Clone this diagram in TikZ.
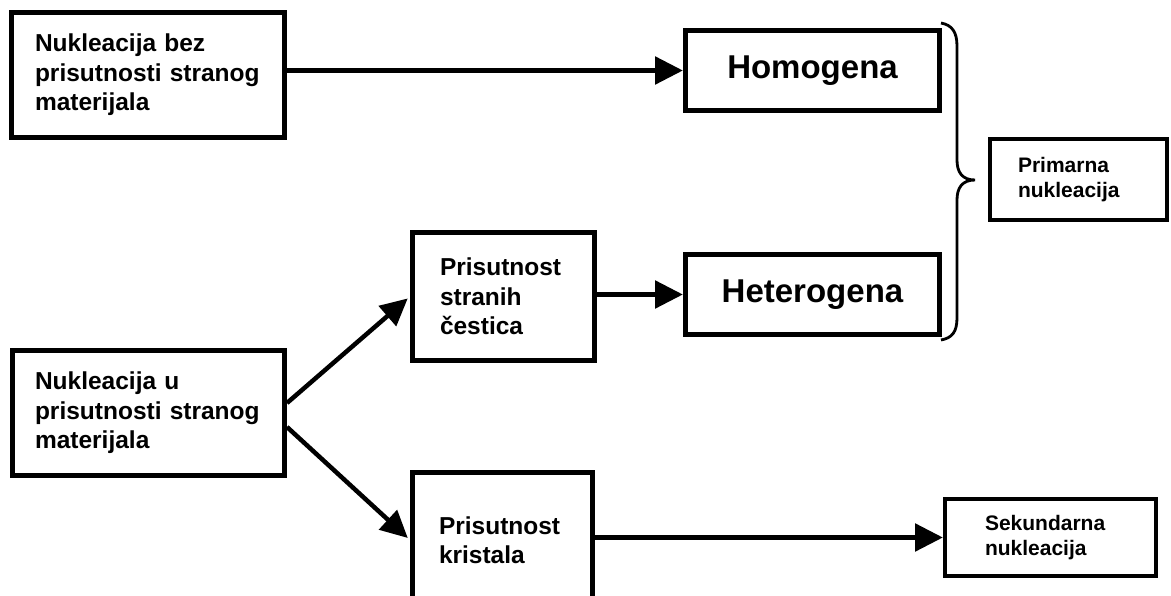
\documentclass[tikz,border=0pt]{standalone}
\usepackage{fontspec}
\setmainfont{Liberation Sans}
\usetikzlibrary{arrows.meta,calc}
\begin{document}
\begin{tikzpicture}[x=1pt,y=-1pt,
  box/.style={draw=black,line width=5pt,rectangle,inner sep=0pt,align=left,font=\bfseries},
  bigtext/.style={font=\fontsize{24.5pt}{29.5pt}\selectfont\bfseries},
  hugetext/.style={font=\fontsize{33pt}{38pt}\selectfont\bfseries,align=center},
  smalltext/.style={font=\fontsize{21pt}{25pt}\selectfont\bfseries},
  harrow/.style={line width=5.5pt,-{Triangle[length=28pt,width=27pt]}},
  darrow/.style={line width=4.5pt,-{Triangle[length=27pt,width=26pt]},shorten >=3pt}
]
\useasboundingbox (0,0) rectangle (1171,596);

\node[box,bigtext,minimum width=273pt,minimum height=125pt,text width=226pt] (A) at (148,75)
  {Nukleacija bez\\prisutnosti stranog\\materijala};
\node[box,bigtext,minimum width=272pt,minimum height=125pt,text width=227pt] (B) at (148.5,413)
  {Nukleacija u\\prisutnosti stranog\\materijala};
\node[box,bigtext,minimum width=182pt,minimum height=128pt,text width=127pt] (C) at (503.5,296.5)
  {Prisutnost\\stranih\\čestica};
\node[box,bigtext,minimum width=180pt,minimum height=135pt,text width=127pt] (D) at (502.5,540)
  {Prisutnost\\kristala};
\node[box,hugetext,minimum width=254pt,minimum height=80pt] (H) at (812.5,70.5) {Homogena};
\node[box,hugetext,minimum width=254pt,minimum height=80pt] (Het) at (812.5,294.5) {Heterogena};
\node[box,smalltext,line width=4pt,minimum width=177pt,minimum height=81pt,text width=121pt] (P) at (1078.5,179.5)
  {Primarna\\nukleacija};
\node[box,smalltext,line width=4pt,minimum width=211pt,minimum height=77pt,text width=131pt] (S) at (1050.5,537.5)
  {Sekundarna\\nukleacija};

\draw[harrow] (A.east |- H.west) -- (H.west);
\draw[harrow] (C.east |- Het.west) -- (Het.west);
\draw[harrow] (D.east |- S.west) -- (S.west);
\draw[darrow] ([yshift=10pt]B.east) -- (C.west);
\draw[darrow] ([yshift=-14pt]B.east) -- (D.west);

% brace
\draw[line width=2.8pt]
  (941,23) .. controls (952,25) and (957,32) .. (957,46)
  -- (957,160) .. controls (957,172) and (962,180) .. (975,180)
  .. controls (962,180) and (957,188) .. (957,200)
  -- (957,318) .. controls (957,332) and (952,338) .. (941,340);
\end{tikzpicture}
\end{document}
